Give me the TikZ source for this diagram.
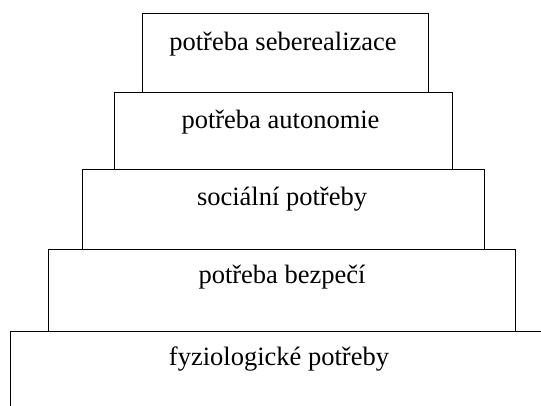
\documentclass[tikz,border=0pt]{standalone}
\usepackage{fontspec}
\setmainfont{Liberation Serif}
\begin{document}
\begin{tikzpicture}[x=1pt,y=-1pt,
  level/.style={draw=black, line width=1.4pt, fill=white, inner sep=0pt, anchor=north west},
  lbl/.style={anchor=base, inner sep=0pt, font=\fontsize{26.5}{32}\selectfont}]
\useasboundingbox (0,0) rectangle (541,405);
\clip (0,0) rectangle (541,405);
\node[level, minimum width=532pt, minimum height=90pt] (b5) at (10,331) {};
\node[level, minimum width=467pt, minimum height=82pt] (b4) at (48,249) {};
\node[level, minimum width=402pt, minimum height=80pt] (b3) at (82,169) {};
\node[level, minimum width=338pt, minimum height=77pt] (b2) at (114,92) {};
\node[level, minimum width=286pt, minimum height=79pt] (b1) at (142,13) {};
\node[lbl] (t1) at (283,50) {potřeba seberealizace};
\node[lbl] (t2) at (280.5,128) {potřeba autonomie};
\node[lbl] (t3) at (282,205) {sociální potřeby};
\node[lbl] (t4) at (282,283) {potřeba bezpečí};
\node[lbl] (t5) at (279,365) {fyziologické potřeby};
\end{tikzpicture}
\end{document}
